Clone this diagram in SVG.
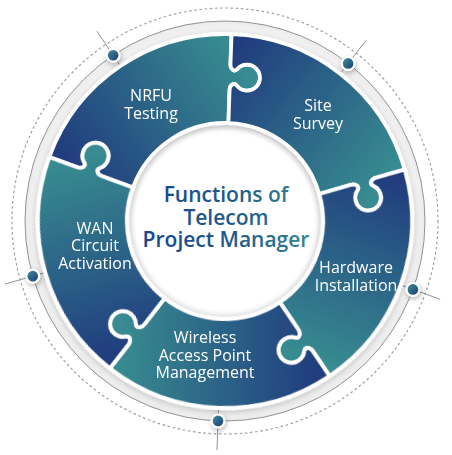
<svg xmlns="http://www.w3.org/2000/svg" xmlns:xlink="http://www.w3.org/1999/xlink" width="452" height="455" viewBox="0 0 452 455">
  <style>
    .lbl { font-family: "Open Sans", "Noto Sans", "Liberation Sans", sans-serif; font-size: 16px; fill: #ffffff; text-anchor: middle; }
    .title { font-family: "Open Sans", "Noto Sans", "Liberation Sans", sans-serif; font-size: 21px; font-weight: 600; text-anchor: middle; fill: url(#titleGrad); }
    .tick { stroke: #8d949a; stroke-width: 1; fill: none; }
    .dotRing { fill: #ffffff; filter: url(#dotShadow); }
    .dotCore { fill: url(#dotGrad); }
  </style>
  <defs>
    <linearGradient id="pieceGrad" gradientUnits="userSpaceOnUse" x1="-100" y1="-110" x2="100" y2="-110">
      <stop offset="0" stop-color="#213c7e"/>
      <stop offset="1" stop-color="#378b90"/>
    </linearGradient>
    <linearGradient id="titleGrad" gradientUnits="userSpaceOnUse" x1="140" y1="0" x2="313" y2="0">
      <stop offset="0" stop-color="#17468a"/>
      <stop offset="0.55" stop-color="#205a8c"/>
      <stop offset="1" stop-color="#368a90"/>
    </linearGradient>
    <linearGradient id="dotGrad" x1="0" y1="0" x2="1" y2="1">
      <stop offset="0" stop-color="#3a8f92"/>
      <stop offset="1" stop-color="#203b7d"/>
    </linearGradient>
    <radialGradient id="bandGrad" cx="225" cy="221" r="200" gradientUnits="userSpaceOnUse">
      <stop offset="0.9" stop-color="#fafafa"/>
      <stop offset="1" stop-color="#ececed"/>
    </radialGradient>
    <radialGradient id="centerGrad" cx="225" cy="221" r="99" gradientUnits="userSpaceOnUse">
      <stop offset="0.9" stop-color="#ffffff"/>
      <stop offset="1" stop-color="#e6e6e6"/>
    </radialGradient>
    <filter id="ringShadow" x="-20%" y="-20%" width="140%" height="140%">
      <feGaussianBlur in="SourceAlpha" stdDeviation="3"/>
      <feOffset dx="0" dy="2" result="b"/>
      <feComponentTransfer><feFuncA type="linear" slope="0.22"/></feComponentTransfer>
      <feMerge><feMergeNode/><feMergeNode in="SourceGraphic"/></feMerge>
    </filter>
    <filter id="dotShadow" x="-100%" y="-100%" width="300%" height="300%">
      <feGaussianBlur in="SourceAlpha" stdDeviation="2.5"/>
      <feOffset dx="1" dy="2"/>
      <feComponentTransfer><feFuncA type="linear" slope="0.3"/></feComponentTransfer>
      <feMerge><feMergeNode/><feMergeNode in="SourceGraphic"/></feMerge>
    </filter>
    <path id="piece" fill="url(#pieceGrad)" stroke="#ffffff" stroke-width="3.8" stroke-linejoin="round"
      d="M -109.916 -151.286 A 187 187 0 0 1 109.916 -151.286 L 92.282 -127.015 C 89.343 -122.970 90.821 -118.028 95.250 -119.123 A 13 13 0 1 1 85.423 -105.597 C 85.096 -110.148 79.939 -110.026 77.000 -105.981 L 57.603 -79.284 A 98 98 0 0 0 -57.603 -79.284 L -77.000 -105.981 C -79.939 -110.026 -78.462 -114.968 -74.032 -113.873 A 13 13 0 1 0 -83.859 -127.399 C -84.187 -122.848 -89.343 -122.970 -92.282 -127.015 Z"/>
  </defs>

  <rect x="0" y="0" width="452" height="455" fill="#ffffff"/>

  <g id="frame">
    <circle cx="225" cy="221" r="213" fill="none" stroke="#9aa1a7" stroke-width="1.2" stroke-dasharray="2.6 2.6"/>
    <circle cx="225" cy="221" r="200" fill="url(#bandGrad)" stroke="#8d949a" stroke-width="1"/>
  </g>

  <g id="connectors">
    <line class="tick" x1="119.87" y1="65.14" x2="96.95" y2="31.15"/>
    <line class="tick" x1="340.74" y1="72.85" x2="365.99" y2="40.55"/>
    <line class="tick" x1="401.66" y1="285.30" x2="440.19" y2="299.32"/>
    <line class="tick" x1="218.44" y1="408.89" x2="217.01" y2="449.86"/>
    <line class="tick" x1="44.28" y1="272.82" x2="4.87" y2="284.12"/>
  </g>

  <g id="center">
    <circle cx="225" cy="221" r="99" fill="url(#centerGrad)"/>
    <text class="title" x="226" y="202">Functions of<tspan x="226" y="224.5">Telecom</tspan><tspan x="226" y="247">Project Manager</tspan></text>
  </g>

  <g id="pieces" filter="url(#ringShadow)">
    <use xlink:href="#piece" href="#piece" transform="translate(225,221) rotate(-34)"/>
    <use xlink:href="#piece" href="#piece" transform="translate(225,221) rotate(38)"/>
    <use xlink:href="#piece" href="#piece" transform="translate(225,221) rotate(110)"/>
    <use xlink:href="#piece" href="#piece" transform="translate(225,221) rotate(182)"/>
    <use xlink:href="#piece" href="#piece" transform="translate(225,221) rotate(254)"/>
  </g>

  <g id="dots">
    <circle class="dotRing" cx="113.16" cy="55.19" r="7.5"/><circle class="dotCore" cx="113.16" cy="55.19" r="5.3"/>
    <circle class="dotRing" cx="348.13" cy="63.40" r="7.5"/><circle class="dotCore" cx="348.13" cy="63.40" r="5.3"/>
    <circle class="dotRing" cx="412.94" cy="289.40" r="7.5"/><circle class="dotCore" cx="412.94" cy="289.40" r="5.3"/>
    <circle class="dotRing" cx="218.02" cy="420.88" r="7.5"/><circle class="dotCore" cx="218.02" cy="420.88" r="5.3"/>
    <circle class="dotRing" cx="32.75" cy="276.13" r="7.5"/><circle class="dotCore" cx="32.75" cy="276.13" r="5.3"/>
  </g>

  <g id="node-nrfu">
    <text class="lbl" x="151" y="101">NRFU<tspan x="151" y="118.5">Testing</tspan></text>
  </g>
  <g id="node-site">
    <text class="lbl" x="318" y="111">Site<tspan x="318" y="128.5">Survey</tspan></text>
  </g>
  <g id="node-hardware">
    <text class="lbl" x="356" y="273">Hardware<tspan x="356" y="290.5">Installation</tspan></text>
  </g>
  <g id="node-wireless">
    <text class="lbl" x="205" y="343">Wireless<tspan x="205" y="360.5">Access Point</tspan><tspan x="205" y="378">Management</tspan></text>
  </g>
  <g id="node-wan">
    <text class="lbl" x="95" y="233.5">WAN<tspan x="95" y="251">Circuit</tspan><tspan x="95" y="268.5">Activation</tspan></text>
  </g>
</svg>
